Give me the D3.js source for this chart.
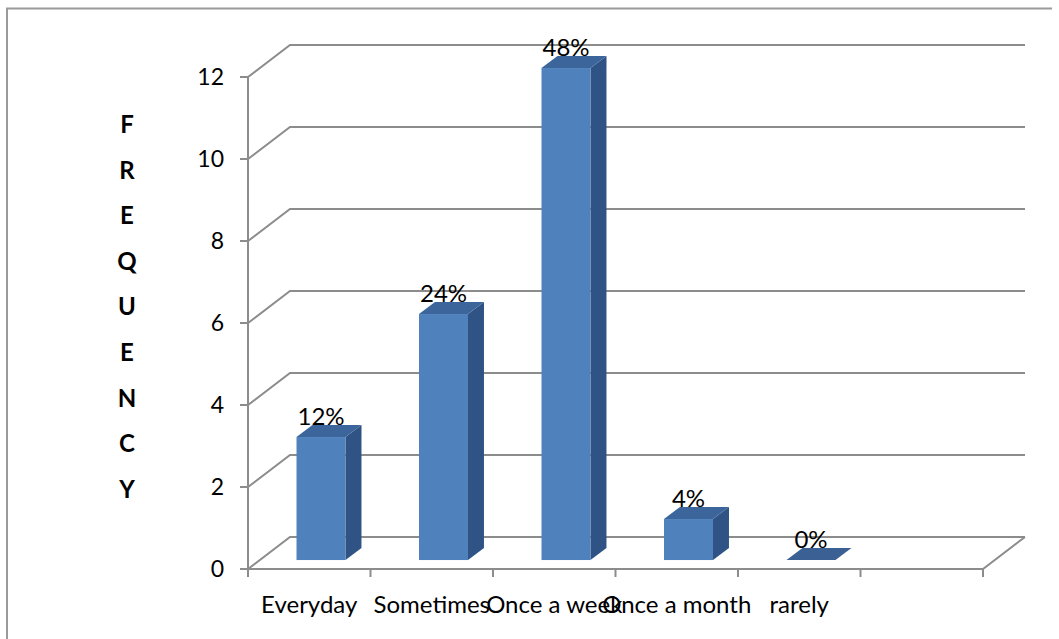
<!DOCTYPE html>
<html>
<head>
<meta charset="utf-8">
<script src="https://cdn.jsdelivr.net/npm/d3@7"></script>
<style>
  html, body { margin: 0; padding: 0; background: #fff; }
  svg { display: block; }
  text { font-family: Lato, "Open Sans", sans-serif; fill: #000; }
</style>
</head>
<body>
<svg id="chart" width="1059" height="639"></svg>
<script>
// ---- data ----
const categories = ["Everyday", "Sometimes", "Once a week", "Once a month", "rarely", ""];
const values = [3, 6, 12, 1, 0, null];
const percentLabels = ["12%", "24%", "48%", "4%", "0%", ""];
const yTicks = [0, 2, 4, 6, 8, 10, 12];
const yTitle = ["F", "R", "E", "Q", "U", "E", "N", "C", "Y"];

// ---- layout ----
const W = 1059, H = 639;
const front = { left: 248, right: 983, bottom: 569, top: 77 };
const depth = { dx: 42, dy: -32 };
const barFront = 0.28, barDepth = 0.38, barHalf = 24.5;

const svg = d3.select("#chart");

// outer border (left and top)
svg.append("path")
  .attr("d", `M7,${H + 5} L7,8.5 L1052,8.5`)
  .attr("fill", "none").attr("stroke", "#9a9a9a").attr("stroke-width", 2);

const x = d3.scaleBand().domain(d3.range(categories.length))
  .range([front.left, front.right]).paddingInner(0).paddingOuter(0);
const y = d3.scaleLinear().domain([0, 12]).range([front.bottom, front.top]);

const grid = "#8c8c8c";

// gridlines (left wall diagonal + back wall horizontal)
svg.append("g").selectAll("path").data(yTicks).join("path")
  .attr("d", t => `M${front.left},${y(t)} L${front.left + depth.dx},${y(t) + depth.dy} L${front.right + depth.dx},${y(t) + depth.dy}`)
  .attr("fill", "none").attr("stroke", grid).attr("stroke-width", 2);

// floor front and right edge
svg.append("path")
  .attr("d", `M${front.left},${y(0)} L${front.right},${y(0)} L${front.right + depth.dx},${y(0) + depth.dy}`)
  .attr("fill", "none").attr("stroke", grid).attr("stroke-width", 2);

// vertical axis
svg.append("line")
  .attr("x1", front.left).attr("x2", front.left)
  .attr("y1", y(12)).attr("y2", y(0))
  .attr("stroke", grid).attr("stroke-width", 2);

// y ticks
svg.append("g").selectAll("line").data(yTicks).join("line")
  .attr("x1", front.left - 8).attr("x2", front.left)
  .attr("y1", d => y(d)).attr("y2", d => y(d))
  .attr("stroke", grid).attr("stroke-width", 2);

svg.append("g").selectAll("text").data(yTicks).join("text")
  .attr("x", 224).attr("y", d => y(d)).attr("dy", "0.36em")
  .attr("text-anchor", "end").attr("font-size", 23)
  .text(d => d);

// x ticks at category boundaries
const bounds = d3.range(categories.length + 1).map(i => front.left + i * x.step());
svg.append("g").selectAll("line").data(bounds).join("line")
  .attr("x1", d => d).attr("x2", d => d)
  .attr("y1", y(0)).attr("y2", y(0) + 8)
  .attr("stroke", grid).attr("stroke-width", 2);

// category labels
svg.append("g").selectAll("text").data(categories).join("text")
  .attr("x", (d, i) => x(i) + x.bandwidth() / 2)
  .attr("y", 613)
  .attr("text-anchor", "middle").attr("font-size", 24)
  .text(d => d);

// bars
const ox = depth.dx * barFront, oy = depth.dy * barFront;
const bdx = depth.dx * barDepth, bdy = depth.dy * barDepth;
const bars = categories.map((c, i) => ({ i, v: values[i], label: percentLabels[i] }))
  .filter(d => d.v !== null);

const gBars = svg.append("g");
bars.forEach(d => {
  const cx = x(d.i) + x.bandwidth() / 2 + ox;
  const xl = cx - barHalf, xr = cx + barHalf;
  const yb = y(0) + oy, yt = y(d.v) + oy;
  if (d.v > 0) {
    gBars.append("path")
      .attr("d", `M${xr},${yt} L${xr + bdx},${yt + bdy} L${xr + bdx},${yb + bdy} L${xr},${yb} Z`)
      .attr("fill", "#2f5385");
    gBars.append("rect")
      .attr("x", xl).attr("y", yt).attr("width", xr - xl).attr("height", yb - yt)
      .attr("fill", "#4f81bd");
  }
  gBars.append("path")
    .attr("d", `M${xl},${yt} L${xr},${yt} L${xr + bdx},${yt + bdy} L${xl + bdx},${yt + bdy} Z`)
    .attr("fill", d.v > 0 ? "#3c659c" : "#3b6194");
  gBars.append("text")
    .attr("x", cx).attr("y", yt - 12)
    .attr("text-anchor", "middle").attr("font-size", 24)
    .text(d.label);
});

// y axis title, stacked letters
svg.append("g").selectAll("text").data(yTitle).join("text")
  .attr("x", 127).attr("y", (d, i) => 133 + i * 45.6)
  .attr("text-anchor", "middle").attr("font-size", 24).attr("font-weight", "bold")
  .text(d => d);
</script>
</body>
</html>
